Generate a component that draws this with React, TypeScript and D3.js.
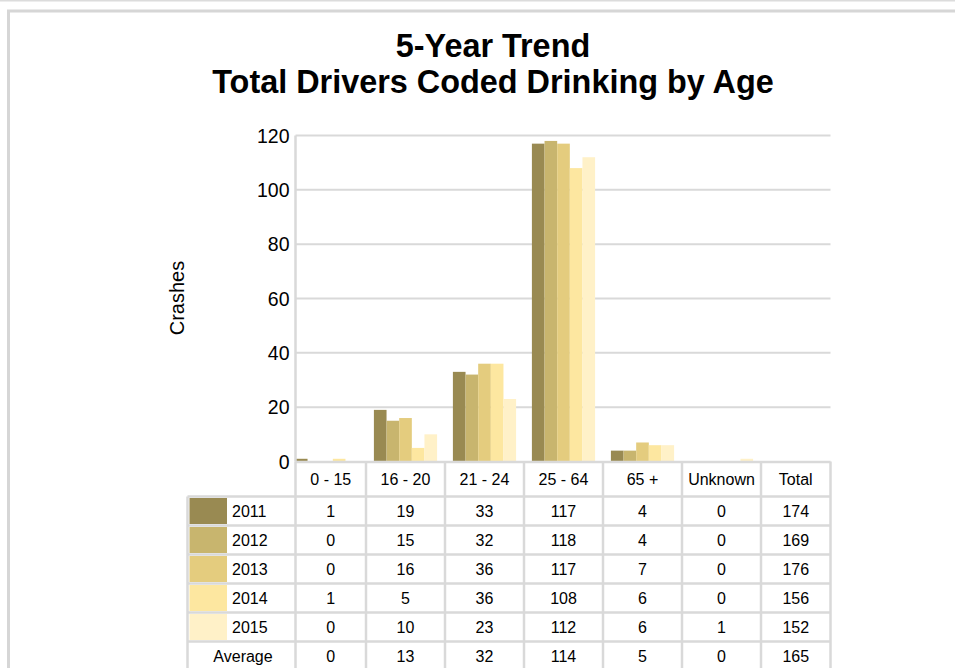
import React from 'react';
import * as d3 from 'd3';

const years = ['2011', '2012', '2013', '2014', '2015'];
const categories = ['0 - 15', '16 - 20', '21 - 24', '25 - 64', '65 +', 'Unknown', 'Total'];
const barCategories = ['0 - 15', '16 - 20', '21 - 24', '25 - 64', '65 +', 'Unknown'];
const values2011 = [1, 19, 33, 117, 4, 0, 174];
const values2012 = [0, 15, 32, 118, 4, 0, 169];
const values2013 = [0, 16, 36, 117, 7, 0, 176];
const values2014 = [1, 5, 36, 108, 6, 0, 156];
const values2015 = [0, 10, 23, 112, 6, 1, 152];
const averages = [0, 13, 32, 114, 5, 0, 165];
const yTicks = [0, 20, 40, 60, 80, 100, 120];
const colors = ['#998a52', '#c8b56e', '#e4cc7e', '#fde7a0', '#fff1c8'];
const titleLines = ['5-Year Trend', 'Total Drivers Coded Drinking by Age'];

const seriesValues = [values2011, values2012, values2013, values2014, values2015];

const W = 955;
const H = 668;
const FONT = '"Liberation Sans", Arial, sans-serif';
const GRID = '#d9d9d9';
const plotLeft = 295.5;
const plotRight = 830.5;
const plotTop = 135.5;
const plotBottom = 461.5;
const TFS = 16;

export default function App() {
  const x = d3.scaleBand<string>().domain(categories).range([287, 840]).padding(0);
  const step = x.step();
  const x1 = d3.scaleBand<string>().domain(years).range([step * 0.1, step * 0.9]).padding(0);
  const y = d3.scaleLinear().domain([0, 120]).range([plotBottom, plotTop]);

  const colEdges: number[] = [plotLeft];
  categories.forEach((c, i) => {
    const right = i === categories.length - 1 ? plotRight : (x(c) as number) + step;
    colEdges.push(right);
  });

  const headerTop = plotBottom;
  const headerBottom = 496.5;
  const rowH = 29;
  const rowLabels = [...years, 'Average'];
  const rowData = [...seriesValues, averages];
  const legendLeft = 187.5;

  return (
    <div style={{ position: 'absolute', left: 0, top: 0, width: W, height: H, background: '#fff' }}>
      <svg width={W} height={H} style={{ display: 'block' }} fontFamily={FONT}>
        <defs>
          <clipPath id="plotclip">
            <rect x={plotLeft} y={0} width={plotRight - plotLeft} height={plotBottom} />
          </clipPath>
        </defs>
        {/* frame */}
        <line x1={0} x2={W} y1={0.5} y2={0.5} stroke="#dcdcdc" strokeWidth={2} />
        <rect x={8.5} y={11} width={W + 20} height={H + 20} fill="none" stroke="#d6d6d6" strokeWidth={3} />

        {/* title */}
        {titleLines.map((t, i) => (
          <text key={t} x={493} y={57 + i * 36} textAnchor="middle" fontSize={32.4} fontWeight="bold" fill="#000">
            {t}
          </text>
        ))}

        {/* gridlines */}
        {yTicks.filter(t => t > 0).map(t => (
          <line key={t} x1={plotLeft} x2={plotRight} y1={y(t)} y2={y(t)} stroke={GRID} strokeWidth={2} />
        ))}
        {yTicks.map(t => (
          <text key={'l' + t} x={289.5} y={y(t)} dy="0.36em" textAnchor="end" fontSize={19.5} fill="#000">
            {t}
          </text>
        ))}
        <text transform={`translate(184,298) rotate(-90)`} textAnchor="middle" fontSize={20} fill="#000">
          Crashes
        </text>

        {/* bars */}
        <g clipPath="url(#plotclip)">
          {barCategories.map(c => {
            const ci = categories.indexOf(c);
            return years.map((yr, yi) => {
              const v = seriesValues[yi][ci];
              if (v <= 0) return null;
              return (
                <rect
                  key={c + yr}
                  x={(x(c) as number) + (x1(yr) as number)}
                  y={y(v)}
                  width={x1.bandwidth()}
                  height={plotBottom - y(v)}
                  fill={colors[yi]}
                />
              );
            });
          })}
        </g>

        {/* axis line */}
        <line x1={plotLeft} x2={plotLeft} y1={plotTop} y2={plotBottom} stroke={GRID} strokeWidth={2.5} />

        {/* swatches */}
        {years.map((yr, i) => {
          const top = headerBottom + i * rowH;
          return (
            <g key={'sw' + yr}>
              <rect x={189.5} y={top + 1.5} width={37.5} height={rowH - 3} fill={colors[i]} />
              <text x={232} y={top + rowH / 2} dy="0.36em" fontSize={TFS} fill="#000">
                {yr}
              </text>
            </g>
          );
        })}
        <text x={243} y={headerBottom + 5 * rowH + rowH / 2} dy="0.36em" textAnchor="middle" fontSize={TFS} fill="#000">
          Average
        </text>

        {/* header labels */}
        {categories.map((c, i) => (
          <text
            key={'h' + c}
            x={(colEdges[i] + colEdges[i + 1]) / 2}
            y={(headerTop + headerBottom) / 2}
            dy="0.36em"
            textAnchor="middle"
            fontSize={TFS}
            fill="#000"
          >
            {c}
          </text>
        ))}

        {/* cell values */}
        {rowData.map((vals, r) =>
          vals.map((v, i) => (
            <text
              key={'c' + r + '-' + i}
              x={(colEdges[i] + colEdges[i + 1]) / 2}
              y={headerBottom + r * rowH + rowH / 2}
              dy="0.36em"
              textAnchor="middle"
              fontSize={TFS}
              fill="#000"
            >
              {v}
            </text>
          ))
        )}

        {/* table grid lines */}
        <line x1={plotLeft} x2={plotRight} y1={headerTop + 0.5} y2={headerTop + 0.5} stroke={GRID} strokeWidth={2.5} />
        {d3.range(rowLabels.length + 1).map(r => (
          <line
            key={'hr' + r}
            x1={legendLeft}
            x2={plotRight}
            y1={headerBottom + r * rowH}
            y2={headerBottom + r * rowH}
            stroke={GRID}
            strokeWidth={2.5}
          />
        ))}
        {colEdges.map((e, i) => (
          <line key={'vc' + i} x1={e} x2={e} y1={headerTop} y2={H + 5} stroke={GRID} strokeWidth={2.5} />
        ))}
        <line x1={legendLeft} x2={legendLeft} y1={headerBottom} y2={H + 5} stroke={GRID} strokeWidth={2.5} />
      </svg>
    </div>
  );
}
